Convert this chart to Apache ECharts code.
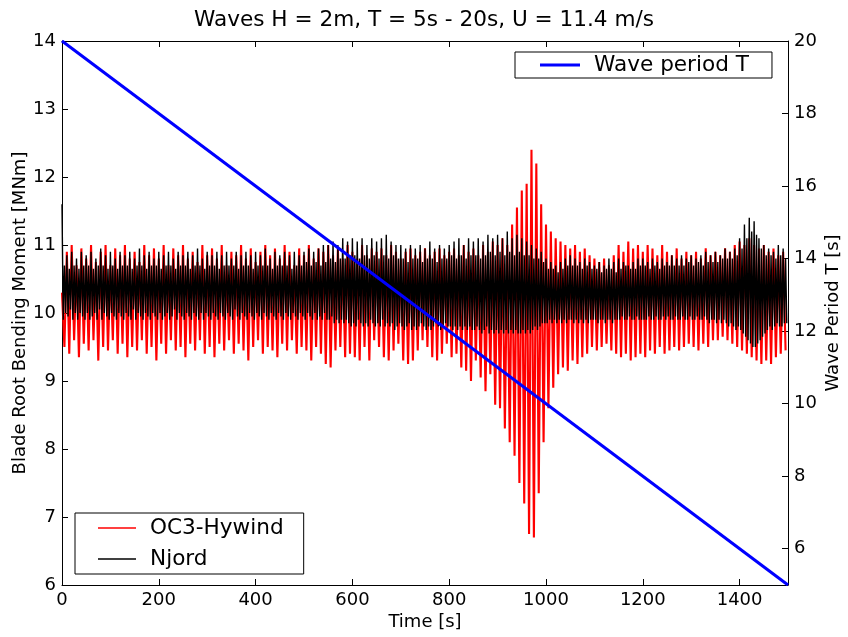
<!DOCTYPE html>
<html>
<head>
<meta charset="utf-8">
<script src="https://cdn.jsdelivr.net/npm/echarts@6.0.0/dist/echarts.min.js"></script>
<style>
html,body{margin:0;padding:0;background:#fff;}
#chart{width:848px;height:637px;}
</style>
</head>
<body>
<div id="chart"></div>
<script>
// ---- data ----
const titleText = 'Waves H = 2m, T = 5s - 20s, U = 11.4 m/s';
const hywindStep = 5;   // seconds between OC3-Hywind samples (alternating peaks / troughs)
const njordStep = 2.5;  // seconds between Njord samples
const xTicks = [0, 200, 400, 600, 800, 1000, 1200, 1400];
const rightTicks = [6, 8, 10, 12, 14, 16, 18, 20];

const hywind = [
 10.3, 9.5, 10.9, 9.4, 11.0, 9.6, 10.7, 9.35, 10.95, 9.55,
 10.8, 9.45, 11.0, 9.6, 10.75, 9.3, 10.9, 9.5, 11.0, 9.45,
 10.7, 9.6, 10.95, 9.4, 10.85, 9.55, 11.0, 9.35, 10.8, 9.5,
 10.9, 9.45, 10.75, 9.6, 11.0, 9.4, 10.85, 9.5, 10.95, 9.3,
 10.8, 9.55, 11.0, 9.4, 10.7, 9.6, 10.95, 9.45, 10.85, 9.5,
 11.0, 9.35, 10.8, 9.55, 10.9, 9.45, 10.75, 9.6, 11.0, 9.4,
 10.85, 9.5, 10.95, 9.35, 10.8, 9.55, 11.0, 9.45, 10.7, 9.6,
 10.9, 9.4, 10.85, 9.55, 11.0, 9.45, 10.8, 9.3, 10.95, 9.5,
 10.75, 9.6, 10.9, 9.4, 11.0, 9.5, 10.85, 9.45, 10.95, 9.35,
 10.8, 9.55, 11.0, 9.45, 10.9, 9.6, 10.7, 9.4, 10.95, 9.5,
 10.85, 9.45, 11.0, 9.3, 10.8, 9.5, 10.95, 9.4, 10.9, 9.25,
 11.0, 9.2, 10.85, 9.45, 10.95, 9.5, 10.8, 9.35, 11.0, 9.4,
 10.9, 9.35, 10.8, 9.3, 11.0, 9.5, 10.85, 9.3, 10.95, 9.6,
 10.9, 9.5, 10.95, 9.35, 10.85, 9.3, 11.0, 9.45, 10.9, 9.55,
 10.8, 9.3, 10.9, 9.25, 10.95, 9.3, 10.85, 9.45, 10.9, 9.6,
 10.95, 9.5, 10.85, 9.35, 10.9, 9.3, 10.95, 9.4, 10.85, 9.55,
 10.9, 9.35, 10.95, 9.4, 10.85, 9.2, 11.0, 9.15, 10.9, 9.0,
 10.95, 9.3, 10.85, 9.05, 11.0, 8.85, 10.9, 9.1, 11.05, 8.65,
 11.0, 8.6, 11.1, 8.3, 11.0, 8.1, 11.3, 7.9, 11.55, 7.5,
 11.8, 7.2, 11.9, 6.75, 12.4, 6.7, 12.2, 7.35, 11.6, 8.1,
 11.3, 8.6, 11.2, 8.9, 11.1, 9.1, 11.05, 9.2, 11.0, 9.15,
 10.95, 9.3, 11.0, 9.25, 10.9, 9.35, 10.95, 9.4, 10.85, 9.5,
 10.8, 9.45, 10.75, 9.5, 10.8, 9.55, 10.7, 9.45, 10.85, 9.4,
 11.0, 9.35, 10.9, 9.4, 11.05, 9.3, 10.95, 9.35, 11.0, 9.4,
 10.9, 9.35, 11.0, 9.45, 10.95, 9.4, 10.85, 9.5, 11.0, 9.4,
 10.9, 9.45, 10.85, 9.5, 10.95, 9.45, 10.8, 9.5, 10.9, 9.55,
 10.85, 9.5, 10.9, 9.45, 10.8, 9.55, 10.95, 9.5, 10.85, 9.6,
 10.9, 9.6, 10.85, 9.65, 10.95, 9.6, 10.9, 9.55, 11.0, 9.5,
 11.05, 9.45, 11.0, 9.4, 11.1, 9.35, 11.0, 9.3, 10.95, 9.25,
 11.0, 9.3, 10.9, 9.25, 10.95, 9.35, 10.85, 9.4, 10.9, 9.45
];

const njord = [
 11.6, 9.9, 10.7, 10.0, 10.85, 9.95, 10.65, 10.05, 10.9, 9.9, 10.7, 10.0, 10.8, 9.9, 10.65, 10.0, 10.9, 9.95, 10.7, 9.9,
 10.85, 10.0, 10.7, 9.9, 10.9, 9.95, 10.65, 10.0, 10.8, 9.9, 10.7, 10.05, 10.95, 9.9, 10.7, 10.0, 10.85, 9.95, 10.65, 9.9,
 10.9, 10.0, 10.7, 9.95, 10.8, 9.9, 10.65, 10.0, 10.9, 9.95, 10.7, 9.9, 10.85, 10.0, 10.7, 9.95, 10.9, 9.9, 10.65, 10.05,
 10.8, 9.9, 10.7, 10.0, 10.95, 9.95, 10.7, 9.9, 10.85, 10.0, 10.65, 9.95, 10.9, 9.9, 10.7, 10.0, 10.8, 9.95, 10.7, 9.9,
 10.9, 10.0, 10.65, 9.9, 10.85, 9.95, 10.7, 10.0, 10.9, 9.9, 10.7, 9.95, 10.8, 10.05, 10.65, 9.9, 10.9, 10.0, 10.7, 9.95,
 10.85, 9.9, 10.7, 10.0, 10.9, 9.95, 10.65, 9.9, 10.85, 10.0, 10.7, 9.95, 10.95, 9.9, 10.7, 10.0, 10.8, 9.9, 10.65, 10.0,
 10.9, 9.95, 10.7, 9.9, 10.85, 10.0, 10.7, 9.95, 10.9, 9.9, 10.65, 10.0, 10.85, 9.95, 10.7, 9.9, 10.9, 10.0, 10.7, 9.95,
 10.8, 9.9, 10.7, 10.05, 10.9, 9.95, 10.65, 9.9, 10.85, 10.0, 10.7, 9.95, 10.9, 9.9, 10.7, 10.0, 10.85, 9.95, 10.65, 9.9,
 10.9, 10.0, 10.7, 9.95, 10.85, 9.9, 10.7, 10.0, 10.95, 9.95, 10.7, 9.9, 10.8, 10.0, 10.65, 9.95, 10.9, 9.9, 10.7, 10.0,
 10.85, 9.95, 10.7, 9.9, 10.9, 10.0, 10.7, 9.95, 10.85, 9.9, 10.65, 10.0, 10.9, 9.95, 10.7, 9.9, 10.85, 10.0, 10.7, 9.95,
 10.9, 9.9, 10.75, 10.0, 10.95, 9.95, 10.7, 9.9, 10.9, 10.0, 10.75, 9.9, 10.95, 9.95, 10.7, 9.9, 11.0, 10.0, 10.75, 9.9,
 11.0, 9.9, 10.8, 9.95, 11.05, 9.85, 10.75, 9.9, 11.0, 9.85, 10.8, 9.9, 11.1, 9.85, 10.8, 9.9, 11.05, 9.85, 10.85, 9.8,
 11.1, 9.85, 10.85, 9.8, 11.05, 9.9, 10.8, 9.85, 11.1, 9.8, 10.85, 9.85, 11.0, 9.8, 10.8, 9.9, 11.1, 9.85, 10.85, 9.8,
 11.05, 9.85, 10.8, 9.8, 11.1, 9.9, 10.85, 9.8, 11.15, 9.85, 10.8, 9.8, 11.05, 9.85, 10.85, 9.75, 11.0, 9.8, 10.8, 9.85,
 11.0, 9.8, 10.8, 9.75, 10.95, 9.8, 10.75, 9.85, 11.0, 9.75, 10.8, 9.8, 10.95, 9.75, 10.8, 9.8, 11.0, 9.85, 10.75, 9.8,
 10.95, 9.75, 10.8, 9.8, 11.05, 9.75, 10.8, 9.8, 10.95, 9.85, 10.75, 9.8, 11.0, 9.75, 10.8, 9.8, 10.95, 9.85, 10.8, 9.8,
 11.0, 9.8, 10.85, 9.75, 11.05, 9.8, 10.8, 9.75, 11.1, 9.8, 10.85, 9.75, 11.0, 9.8, 10.8, 9.75, 11.1, 9.8, 10.85, 9.75,
 11.05, 9.75, 10.85, 9.8, 11.1, 9.75, 10.8, 9.7, 11.05, 9.75, 10.85, 9.8, 11.15, 9.7, 10.9, 9.75, 11.1, 9.7, 10.85, 9.75,
 11.15, 9.7, 10.9, 9.75, 11.1, 9.7, 10.85, 9.75, 11.2, 9.7, 10.9, 9.75, 11.1, 9.7, 10.85, 9.75, 11.15, 9.7, 10.9, 9.7,
 11.1, 9.75, 10.85, 9.7, 11.05, 9.75, 10.85, 9.7, 11.0, 9.75, 10.8, 9.8, 10.95, 9.75, 10.8, 9.8, 10.9, 9.85, 10.75, 9.85,
 10.8, 9.85, 10.65, 9.9, 10.75, 9.85, 10.65, 9.9, 10.7, 9.85, 10.6, 9.9, 10.75, 9.85, 10.65, 9.9, 10.8, 9.85, 10.7, 9.9,
 10.85, 9.9, 10.7, 9.85, 10.8, 9.9, 10.7, 9.85, 10.75, 9.9, 10.65, 9.85, 10.8, 9.9, 10.7, 9.85, 10.75, 9.9, 10.65, 9.9,
 10.7, 9.9, 10.65, 9.85, 10.75, 9.9, 10.6, 9.9, 10.7, 9.85, 10.65, 9.9, 10.8, 9.9, 10.65, 9.85, 10.75, 9.9, 10.6, 9.9,
 10.8, 9.9, 10.65, 9.95, 10.75, 9.9, 10.7, 9.9, 10.7, 9.95, 10.65, 9.9, 10.75, 9.9, 10.65, 9.95, 10.8, 9.9, 10.7, 9.9,
 10.8, 9.9, 10.7, 9.9, 10.75, 9.95, 10.65, 9.9, 10.8, 9.9, 10.7, 9.95, 10.75, 9.9, 10.65, 9.9, 10.8, 9.95, 10.7, 9.9,
 10.75, 9.95, 10.7, 9.9, 10.85, 9.9, 10.7, 9.95, 10.8, 9.9, 10.7, 9.9, 10.85, 9.95, 10.7, 9.9, 10.8, 9.9, 10.75, 9.95,
 10.85, 9.9, 10.7, 9.9, 10.8, 9.95, 10.75, 9.9, 10.85, 9.9, 10.7, 9.95, 10.9, 9.9, 10.75, 9.85, 10.85, 9.9, 10.75, 9.9,
 10.9, 9.85, 10.75, 9.9, 10.85, 9.85, 10.8, 9.9, 10.95, 9.85, 10.8, 9.8, 10.9, 9.85, 10.8, 9.8, 10.95, 9.75, 10.85, 9.8,
 11.1, 9.75, 10.95, 9.7, 11.3, 9.65, 11.1, 9.6, 11.4, 9.55, 11.2, 9.5, 11.35, 9.5, 11.15, 9.55, 11.1, 9.6, 10.95, 9.65,
 11.0, 9.7, 10.85, 9.75, 10.95, 9.8, 10.85, 9.75, 10.9, 9.8, 10.8, 9.85, 11.0, 9.8, 10.85, 9.8, 10.95, 9.85, 10.8, 9.85
];

const wavePeriodTimes = [0, 1500];
const wavePeriodValues = [20, 5];

// ---- build chart ----
const hywindPairs = hywind.map((v, i) => [i * hywindStep, v]);
const njordPairs = njord.map((v, i) => [i * njordStep, v]);
const wavePairs = wavePeriodTimes.map((t, i) => [t, wavePeriodValues[i]]);

const FONT = 'DejaVu Sans';
const chart = echarts.init(document.getElementById('chart'), null, {renderer: 'canvas'});

const tickStyle = {show: true, inside: true, length: 6, lineStyle: {color: '#000', width: 1}};
const lineStyle = {show: true, onZero: false, lineStyle: {color: '#000', width: 1}};
const plain = v => String(v);
const legendText = {fontFamily: FONT, fontSize: 21.6, color: '#000', padding: [0, 0, 0, 9]};

chart.setOption({
  animation: false,
  backgroundColor: '#fff',
  textStyle: {fontFamily: FONT, color: '#000'},
  title: {
    text: titleText, left: 'center', top: 4,
    textStyle: {fontFamily: FONT, fontSize: 21.6, fontWeight: 'normal', color: '#000'}
  },
  grid: {left: 62, right: 60, top: 41, bottom: 52, containLabel: false, outerBoundsMode: 'none'},
  legend: [
    {
      data: [{name: 'OC3-Hywind', icon: 'rect'}, {name: 'Njord', icon: 'rect'}],
      orient: 'vertical', left: 75, top: 513,
      itemWidth: 38, itemHeight: 1.5, itemGap: 9,
      padding: [4, 20, 4, 23],
      borderColor: '#000', borderWidth: 1, borderRadius: 0, backgroundColor: '#fff',
      textStyle: legendText,
      selectedMode: false
    },
    {
      data: [{name: 'Wave period T', icon: 'rect'}],
      orient: 'horizontal', left: 515, top: 52,
      itemWidth: 40, itemHeight: 3,
      padding: [2, 23, 2, 25],
      borderColor: '#000', borderWidth: 1, borderRadius: 0, backgroundColor: '#fff',
      textStyle: legendText,
      selectedMode: false
    }
  ],
  xAxis: [
    {
      type: 'value', position: 'bottom', min: 0, max: 1500,
      axisLine: lineStyle,
      axisTick: Object.assign({customValues: xTicks}, tickStyle),
      axisLabel: {customValues: xTicks, formatter: plain, fontFamily: FONT, fontSize: 18, color: '#000', margin: 6},
      splitLine: {show: false},
      name: 'Time [s]', nameLocation: 'middle', nameGap: 28, nameMoveOverlap: false,
      nameTextStyle: {fontFamily: FONT, fontSize: 18, color: '#000'}
    },
    {
      type: 'value', position: 'top', min: 0, max: 1500,
      axisLine: lineStyle,
      axisTick: Object.assign({customValues: xTicks}, tickStyle),
      axisLabel: {show: false},
      splitLine: {show: false}
    }
  ],
  yAxis: [
    {
      type: 'value', position: 'left', min: 6, max: 14, interval: 1,
      axisLine: lineStyle,
      axisTick: tickStyle,
      axisLabel: {formatter: plain, fontFamily: FONT, fontSize: 18, color: '#000', margin: 6},
      splitLine: {show: false},
      name: 'Blade Root Bending Moment [MNm]', nameLocation: 'middle', nameGap: 33, nameRotate: 90,
      nameMoveOverlap: false,
      nameTextStyle: {fontFamily: FONT, fontSize: 18, color: '#000'}
    },
    {
      type: 'value', position: 'right', min: 5, max: 20,
      axisLine: lineStyle,
      axisTick: Object.assign({customValues: rightTicks}, tickStyle),
      axisLabel: {customValues: rightTicks, formatter: plain, fontFamily: FONT, fontSize: 18, color: '#000', margin: 6},
      splitLine: {show: false},
      name: 'Wave Period T [s]', nameLocation: 'middle', nameGap: 36, nameRotate: 90,
      nameMoveOverlap: false,
      nameTextStyle: {fontFamily: FONT, fontSize: 18, color: '#000'}
    }
  ],
  series: [
    {
      name: 'OC3-Hywind', type: 'line', xAxisIndex: 0, yAxisIndex: 0,
      data: hywindPairs, showSymbol: false, symbol: 'none', sampling: false,
      lineStyle: {color: '#ff0000', width: 2.1}, itemStyle: {color: '#ff0000'}, z: 2
    },
    {
      name: 'Njord', type: 'line', xAxisIndex: 0, yAxisIndex: 0,
      data: njordPairs, showSymbol: false, symbol: 'none', sampling: false,
      lineStyle: {color: '#000000', width: 1.4}, itemStyle: {color: '#000000'}, z: 3
    },
    {
      name: 'Wave period T', type: 'line', xAxisIndex: 0, yAxisIndex: 1,
      data: wavePairs, showSymbol: false, symbol: 'none',
      lineStyle: {color: '#0000ff', width: 3}, itemStyle: {color: '#0000ff'}, z: 4
    }
  ]
});
</script>
</body>
</html>
